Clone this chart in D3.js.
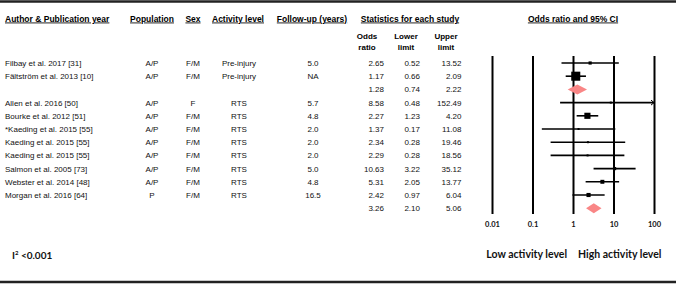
<!DOCTYPE html>
<html>
<head>
<meta charset="utf-8">
<script src="https://cdn.jsdelivr.net/npm/d3@7"></script>
<style>
body { margin: 0; background: #fff; }
svg { display: block; }
</style>
</head>
<body>
<svg width="677" height="289"></svg>
<script>
// rows of the table, pooled rows have no author
var studies = ["Filbay et al. 2017 [31]", "Fältström et al. 2013 [10]", "",
  "Allen et al. 2016 [50]", "Bourke et al. 2012 [51]", "*Kaeding et al. 2015 [55]",
  "Kaeding et al. 2015 [55]", "Kaeding et al. 2015 [55]", "Salmon et al. 2005 [73]",
  "Webster et al. 2014 [48]", "Morgan et al. 2016 [64]", ""];
var population = ["A/P", "A/P", "", "A/P", "A/P", "A/P", "A/P", "A/P", "A/P", "A/P", "P", ""];
var sex = ["F/M", "F/M", "", "F", "F/M", "F/M", "F/M", "F/M", "F/M", "F/M", "F/M", ""];
var activity = ["Pre-injury", "Pre-injury", "", "RTS", "RTS", "RTS", "RTS", "RTS", "RTS", "RTS", "RTS", ""];
var followUp = ["5.0", "NA", "", "5.7", "4.8", "2.0", "2.0", "2.0", "5.0", "4.8", "16.5", ""];
var oddsRatio = [2.65, 1.17, 1.28, 8.58, 2.27, 1.37, 2.34, 2.29, 10.63, 5.31, 2.42, 3.26];
var lowerLimit = [0.52, 0.66, 0.74, 0.48, 1.23, 0.17, 0.28, 0.28, 3.22, 2.05, 0.97, 2.10];
var upperLimit = [13.52, 2.09, 2.22, 152.49, 4.20, 11.08, 19.46, 18.56, 35.12, 13.77, 6.04, 5.06];
// relative weight within subgroup (%), null = pooled estimate
var weights = [11, 89, null, 2, 41, 3.6, 3.4, 3.5, 11, 17, 18.5, null];
var tickValues = [0.01, 0.1, 1, 10, 100];

var svg = d3.select("svg");
var body = "'Liberation Sans', Arial, sans-serif";
var cal = "Lato, 'Open Sans', sans-serif";

var rows = d3.range(studies.length);
var y = d3.scaleLinear().domain([0, rows.length - 1]).range([63, 208.2]);
var x = d3.scaleLog().domain([0.01, 100]).range([492, 654]);
var box = d3.scaleSqrt().domain([0, 100]).range([0, 9.6]);
var fmt = d3.format(".2f");

// top and bottom rules
svg.append("line").attr("x1", 0).attr("x2", 676).attr("y1", 1.5).attr("y2", 1.5)
  .attr("stroke", "#222").attr("stroke-width", 2.5);
svg.append("line").attr("x1", 0).attr("x2", 676).attr("y1", 282).attr("y2", 282)
  .attr("stroke", "#222").attr("stroke-width", 2.5);

// headers
var headers = [
  {t: "Author & Publication year", x: 5, a: "start"},
  {t: "Population", x: 152, a: "middle"},
  {t: "Sex", x: 193, a: "middle"},
  {t: "Activity level", x: 238, a: "middle"},
  {t: "Follow-up (years)", x: 312, a: "middle"},
  {t: "Statistics for each study", x: 410, a: "middle"},
  {t: "Odds ratio and 95% CI", x: 573, a: "middle"}
];
svg.append("g").selectAll("text").data(headers).enter().append("text")
  .attr("x", function(d) { return d.x; })
  .attr("y", 21.5)
  .attr("text-anchor", function(d) { return d.a; })
  .attr("font-family", body).attr("font-size", 8.5).attr("font-weight", "bold")
  .attr("text-decoration", "underline")
  .text(function(d) { return d.t; });

var sub = [["Odds", "ratio", 367], ["Lower", "limit", 406], ["Upper", "limit", 446]];
var subG = svg.append("g").attr("font-family", body).attr("font-size", 8)
  .attr("font-weight", "bold").attr("text-anchor", "middle");
sub.forEach(function(s) {
  subG.append("text").attr("x", s[2]).attr("y", 39).text(s[0]);
  subG.append("text").attr("x", s[2]).attr("y", 50).text(s[1]);
});

// table columns
var cols = [
  {v: studies, x: 5, a: "start"},
  {v: population, x: 152, a: "middle"},
  {v: sex, x: 193, a: "middle"},
  {v: activity, x: 239, a: "middle"},
  {v: followUp, x: 313, a: "middle"},
  {v: oddsRatio.map(fmt), x: 384, a: "end"},
  {v: lowerLimit.map(fmt), x: 420, a: "end"},
  {v: upperLimit.map(fmt), x: 461.5, a: "end"}
];
var table = svg.append("g").attr("font-family", body).attr("font-size", 8).attr("fill", "#111");
cols.forEach(function(c) {
  table.append("g").selectAll("text").data(rows).enter().append("text")
    .attr("x", c.x)
    .attr("y", function(i) { return y(i) + 3; })
    .attr("text-anchor", c.a)
    .text(function(i) { return c.v[i]; });
});

// axis with full-height lines
var axis = svg.append("g").attr("transform", "translate(0,214)")
  .call(d3.axisBottom(x).tickValues(tickValues).tickFormat(function(d) { return d; })
    .tickSize(-158).tickPadding(8));
axis.select(".domain").remove();
axis.selectAll(".tick line").attr("stroke", "#000").attr("stroke-width", 2);
axis.selectAll(".tick text").attr("font-family", cal).attr("font-size", 7.5)
  .attr("font-weight", "bold").attr("fill", "#111");

// confidence intervals
var plot = svg.append("g");
var studyRows = rows.filter(function(i) { return weights[i] !== null; });
var pooledRows = rows.filter(function(i) { return weights[i] === null; });
var xmax = x.domain()[1];

plot.selectAll(".ci").data(studyRows).enter().append("line")
  .attr("x1", function(i) { return x(lowerLimit[i]); })
  .attr("x2", function(i) { return x(Math.min(upperLimit[i], xmax)); })
  .attr("y1", function(i) { return y(i); })
  .attr("y2", function(i) { return y(i); })
  .attr("stroke", "#000").attr("stroke-width", 1.6);

// arrow for CI running off the scale
plot.selectAll(".arrow").data(studyRows.filter(function(i) { return upperLimit[i] > xmax; }))
  .enter().append("path")
  .attr("d", function(i) {
    var ax = x(xmax), ay = y(i);
    return "M" + (ax - 3) + "," + (ay - 2.5) + "L" + ax + "," + ay + "L" + (ax - 3) + "," + (ay + 2.5);
  })
  .attr("fill", "none").attr("stroke", "#000").attr("stroke-width", 1);

plot.selectAll(".box").data(studyRows).enter().append("rect")
  .attr("x", function(i) { return x(oddsRatio[i]) - Math.max(box(weights[i]), 2) / 2; })
  .attr("y", function(i) { return y(i) - Math.max(box(weights[i]), 2) / 2; })
  .attr("width", function(i) { return Math.max(box(weights[i]), 2); })
  .attr("height", function(i) { return Math.max(box(weights[i]), 2); })
  .attr("fill", "#000");

plot.selectAll(".diamond").data(pooledRows).enter().append("path")
  .attr("d", function(i) {
    var cy = y(i), h = 5;
    return "M" + x(lowerLimit[i]) + "," + cy + "L" + x(oddsRatio[i]) + "," + (cy - h) +
      "L" + x(upperLimit[i]) + "," + cy + "L" + x(oddsRatio[i]) + "," + (cy + h) + "Z";
  })
  .attr("fill", "#f98686");

// footer labels
svg.append("text").attr("x", 567).attr("y", 257.5).attr("text-anchor", "end")
  .attr("font-family", cal).attr("font-size", 10.5).attr("font-weight", "bold").attr("fill", "#111")
  .text("Low activity level");
svg.append("text").attr("x", 578).attr("y", 257.5).attr("font-family", cal)
  .attr("font-size", 10.5).attr("font-weight", "bold").attr("fill", "#111")
  .text("High activity level");

var i2 = svg.append("text").attr("x", 12).attr("y", 258.5).attr("font-family", cal)
  .attr("font-size", 10).attr("font-weight", "bold").attr("fill", "#111");
i2.append("tspan").text("I");
i2.append("tspan").attr("font-size", 6).attr("dy", -4).text("2");
i2.append("tspan").attr("dy", 4).text(" <0.001");
</script>
</body>
</html>
